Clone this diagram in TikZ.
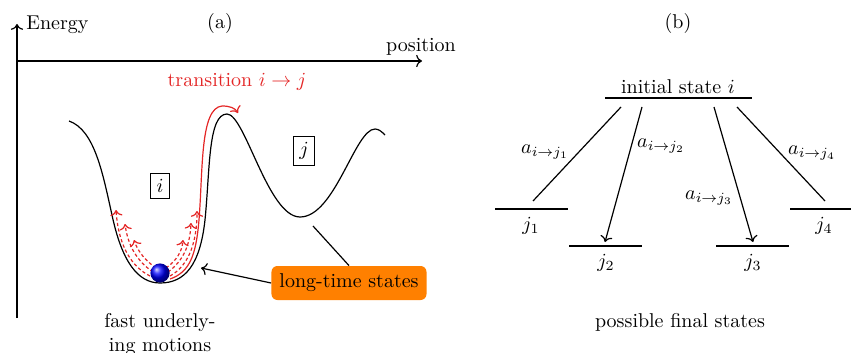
\documentclass[tikz,border=0pt]{standalone}
\usetikzlibrary{arrows.meta}
\definecolor{tred}{RGB}{228,38,38}
\definecolor{torange}{RGB}{255,128,0}
\begin{document}
\begin{tikzpicture}[x=0.5pt,y=-0.5pt,
  axis/.style={semithick,->},
  pot/.style={semithick},
  redarr/.style={tred,semithick,->},
  dasharr/.style={tred,semithick,->,dash pattern=on 1.6pt off 1.2pt},
  statebox/.style={draw,semithick,inner sep=3pt},
  level/.style={semithick},
  trans/.style={semithick},
  lbl/.style={inner sep=1pt}]
\useasboundingbox (0,0) rectangle (851,353);
% ---------------- panel (a) ----------------
\coordinate (Ebot) at (17,318);
\coordinate (Etop) at (17,24);
\coordinate (Pl) at (17,61);
\coordinate (Pr) at (422,61);
\draw[axis] (Ebot) -- (Etop);
\draw[axis] (Pl) -- (Pr);
\node[anchor=west,inner sep=1pt] (energy) at (24,25) {Energy};
\node (position) at (421,47) {position};
\node (alab) at (220,24) {(a)};
\node[text=tred] (trans) at (237,82) {transition $i\to j$};
% potential
\draw[pot] (69,121) .. controls (95,130) and (103,175) .. (112,215)
  .. controls (122,262) and (138,283) .. (160,283)
  .. controls (185,283) and (200,265) .. (205,220)
  .. controls (210,170) and (208,114) .. (227,114)
  .. controls (245,114) and (268,217) .. (300,217)
  .. controls (335,217) and (355,129) .. (375,129)
  .. controls (379,129) and (382,132) .. (385,135);
% red transition
\draw[redarr] (170,279) .. controls (190,272) and (196,255) .. (199,220)
  .. controls (203,170) and (200,108) .. (222,106)
  .. controls (230,106) and (235,108) .. (238,113);
% dashed fast motions
\draw[dasharr] (150,276) .. controls (128,265) and (118,240) .. (116,210);
\draw[dasharr] (153,272) .. controls (137,261) and (128,246) .. (125,224);
\draw[dasharr] (156,268) .. controls (146,261) and (138,252) .. (134,240);
\draw[dasharr] (170,276) .. controls (190,265) and (197,240) .. (197,211);
\draw[dasharr] (168,272) .. controls (183,261) and (190,246) .. (191,223);
\draw[dasharr] (166,268) .. controls (176,261) and (182,252) .. (183,240);
% ball
\shade[ball color=blue] (160,273) circle (4.8pt);
% state boxes
\node[statebox] (bi) at (160,186) {$i$};
\node[statebox] (bj) at (304,151) {$j$};
% long-time states
\node[fill=torange,rounded corners=3pt,inner sep=4pt] (lts) at (349,283) {long-time states};
\coordinate (wellA) at (201,268);
\coordinate (wellB) at (313,226);
\draw[semithick,->] (lts.west) -- (wellA);
\draw[semithick] (lts.north) -- (wellB);
\node[align=center,anchor=north,inner sep=0pt] (fast) at (160,313) {fast underly-\\ing motions};
% ---------------- panel (b) ----------------
\node (blab) at (678,24) {(b)};
\node (init) at (678,87) {initial state $i$};
\coordinate (iL) at (605,98); \coordinate (iR) at (752,98);
\draw[level] (iL) -- (iR);
\coordinate (j1L) at (495,209); \coordinate (j1R) at (568,209);
\coordinate (j2L) at (569,246); \coordinate (j2R) at (642,246);
\coordinate (j3L) at (716,246); \coordinate (j3R) at (789,246);
\coordinate (j4L) at (790,209); \coordinate (j4R) at (851,209);
\draw[level] (j1L) -- (j1R);
\draw[level] (j2L) -- (j2R);
\draw[level] (j3L) -- (j3R);
\draw[level] (j4L) -- (j4R);
\node (j1) at (531,226) {$j_1$};
\node (j2) at (606,263) {$j_2$};
\node (j3) at (753,263) {$j_3$};
\node (j4) at (824,226) {$j_4$};
\coordinate (s1) at (621,107); \coordinate (e1) at (533,201);
\coordinate (s2) at (642,107); \coordinate (e2) at (605,242);
\coordinate (s3) at (714,107); \coordinate (e3) at (753,242);
\coordinate (s4) at (737,107); \coordinate (e4) at (825,201);
\draw[trans] (s1) -- (e1);
\draw[trans,->] (s2) -- (e2);
\draw[trans,->] (s3) -- (e3);
\draw[trans] (s4) -- (e4);
\node[lbl] (a1) at (545,152) {$a_{i\to j_1}$};
\node[lbl] (a2) at (661,146) {$a_{i\to j_2}$};
\node[lbl] (a3) at (709,198) {$a_{i\to j_3}$};
\node[lbl] (a4) at (812,153) {$a_{i\to j_4}$};
\node (final) at (680,322) {possible final states};
\end{tikzpicture}
\end{document}
